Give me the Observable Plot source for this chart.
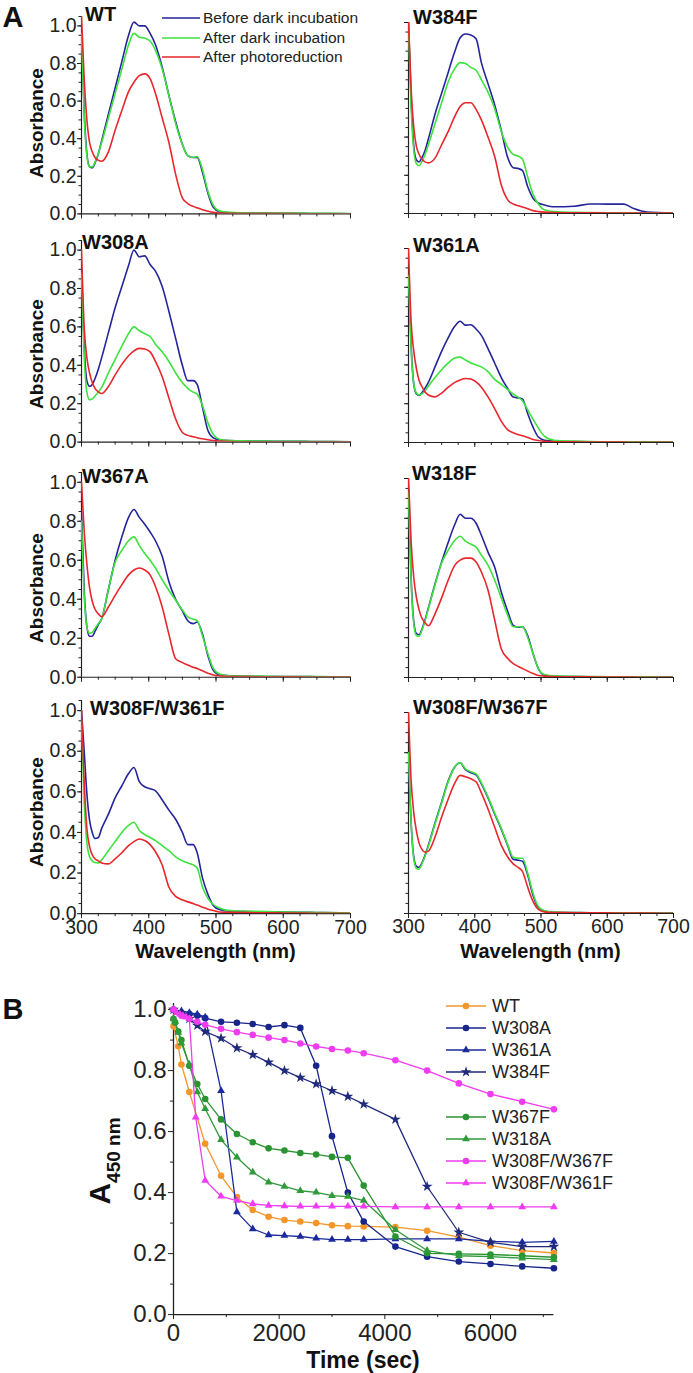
<!DOCTYPE html>
<html><head><meta charset="utf-8">
<script src="https://cdn.jsdelivr.net/npm/d3@7"></script>
<script src="https://cdn.jsdelivr.net/npm/@observablehq/plot@0.6"></script>
<style>
body{margin:0;background:#fff;}
#fig{position:relative;width:693px;height:1373px;overflow:hidden;font-family:'Liberation Sans',Arial,Helvetica,sans-serif;color:#111;background:#fff;}
#fig svg{position:absolute;}
.lbl{position:absolute;white-space:nowrap;line-height:1;}
</style></head><body><div id="fig"></div>
<script>
// ---------------- DATA: panel A (absorption spectra) ----------------
const wl = [300,304,308,312,316,320,325,330,340,350,360,370,378,386,394,402,410,420,430,440,450,458,466,472,480,488,496,505,520,550,575,600,625,640,660,700];
const absTicks = [0, 0.2, 0.4, 0.6, 0.8, 1.0];
const wlTicks = [300, 400, 500, 600, 700];
const spectraLegend = ["Before dark incubation", "After dark incubation", "After photoreduction"];
const panelNames = ["WT", "W384F", "W308A", "W361A", "W367A", "W318F", "W308F/W361F", "W308F/W367F"];

const WT_before = [0.96,0.55,0.32,0.25,0.245,0.27,0.32,0.39,0.53,0.67, 0.81,0.95,1.02,1.00,1.00,0.96,0.90,0.78,0.63,0.49, 0.37,0.31,0.30,0.30,0.22,0.11,0.035,0.012,0.006,0.004, 0.004,0.003,0.003,0.002,0.002,0.001];
const WT_after = [0.96,0.52,0.31,0.25,0.25,0.275,0.32,0.38,0.51,0.64, 0.77,0.90,0.96,0.94,0.935,0.92,0.87,0.77,0.63,0.48, 0.37,0.31,0.30,0.305,0.235,0.12,0.045,0.016,0.008,0.005, 0.005,0.004,0.004,0.003,0.003,0.002];
const WT_photo = [1.05,0.72,0.50,0.38,0.33,0.30,0.285,0.28,0.33,0.445, 0.55,0.65,0.70,0.735,0.745,0.72,0.64,0.51,0.38,0.21, 0.085,0.055,0.04,0.032,0.022,0.014,0.008,0.004,0.003,0.002, 0.002,0.002,0.001,0.001,0.001,0.001];

const W384F_before = [1.0,0.6,0.35,0.28,0.27,0.29,0.33,0.39,0.52,0.63, 0.74,0.85,0.92,0.94,0.935,0.915,0.79,0.68,0.57,0.435, 0.29,0.24,0.235,0.225,0.14,0.08,0.055,0.045,0.035,0.038, 0.05,0.049,0.049,0.026,0.008,0.003];
const W384F_after = [0.98,0.55,0.33,0.26,0.25,0.27,0.31,0.36,0.47,0.58, 0.69,0.76,0.79,0.785,0.765,0.75,0.70,0.635,0.55,0.43, 0.345,0.31,0.30,0.285,0.19,0.10,0.05,0.02,0.01,0.006, 0.005,0.004,0.003,0.003,0.002,0.002];
const W384F_photo = [1.0,0.65,0.45,0.35,0.31,0.285,0.27,0.265,0.29,0.36, 0.43,0.51,0.56,0.58,0.58,0.545,0.49,0.40,0.30,0.15, 0.07,0.05,0.04,0.034,0.025,0.015,0.01,0.007,0.005,0.004, 0.004,0.003,0.003,0.003,0.002,0.002];

const W308A_before = [0.9,0.5,0.32,0.29,0.30,0.33,0.38,0.44,0.57,0.70, 0.81,0.92,1.0,0.965,0.97,0.925,0.89,0.81,0.68,0.54, 0.40,0.32,0.32,0.30,0.18,0.06,0.022,0.012,0.008,0.006, 0.005,0.004,0.004,0.003,0.003,0.002];
const W308A_after = [0.88,0.45,0.26,0.22,0.225,0.24,0.26,0.285,0.36,0.43, 0.50,0.565,0.60,0.58,0.565,0.55,0.51,0.47,0.42,0.36, 0.31,0.28,0.26,0.25,0.19,0.10,0.04,0.015,0.008,0.006, 0.005,0.004,0.004,0.003,0.003,0.002];
const W308A_photo = [1.0,0.6,0.44,0.36,0.31,0.28,0.262,0.253,0.29,0.35, 0.405,0.45,0.475,0.488,0.485,0.47,0.42,0.34,0.23,0.12, 0.05,0.035,0.028,0.023,0.017,0.012,0.008,0.005,0.003,0.002, 0.002,0.002,0.001,0.001,0.001,0.001];

const W361A_before = [0.87,0.5,0.3,0.25,0.243,0.255,0.28,0.31,0.39,0.47, 0.54,0.60,0.625,0.605,0.607,0.585,0.552,0.484,0.41,0.335, 0.277,0.234,0.23,0.225,0.148,0.079,0.028,0.012,0.007,0.005, 0.004,0.004,0.003,0.003,0.002,0.002];
const W361A_after = [0.86,0.48,0.3,0.255,0.245,0.25,0.265,0.29,0.335,0.375, 0.41,0.435,0.44,0.425,0.41,0.40,0.39,0.365,0.325,0.30, 0.272,0.25,0.232,0.215,0.168,0.12,0.075,0.033,0.012,0.007, 0.005,0.004,0.004,0.003,0.003,0.002];
const W361A_photo = [1.0,0.62,0.47,0.38,0.32,0.29,0.26,0.245,0.235,0.255, 0.285,0.31,0.322,0.33,0.327,0.312,0.285,0.235,0.175,0.11, 0.065,0.05,0.04,0.035,0.026,0.016,0.01,0.006,0.004,0.003, 0.002,0.002,0.002,0.001,0.001,0.001];

const W367A_before = [0.85,0.45,0.26,0.21,0.21,0.235,0.27,0.30,0.45,0.60, 0.72,0.82,0.86,0.82,0.785,0.745,0.70,0.62,0.49,0.40, 0.34,0.29,0.275,0.283,0.22,0.11,0.035,0.012,0.007,0.005, 0.004,0.004,0.003,0.003,0.002,0.002];
const W367A_after = [0.8,0.42,0.26,0.225,0.23,0.25,0.275,0.30,0.45,0.59, 0.65,0.70,0.72,0.675,0.635,0.60,0.56,0.50,0.445,0.395, 0.345,0.31,0.298,0.29,0.21,0.12,0.045,0.017,0.008,0.006, 0.005,0.004,0.004,0.003,0.003,0.002];
const W367A_photo = [1.0,0.75,0.58,0.46,0.39,0.35,0.325,0.31,0.36,0.42, 0.475,0.525,0.55,0.56,0.55,0.525,0.465,0.36,0.22,0.095, 0.075,0.063,0.051,0.045,0.033,0.02,0.012,0.007,0.004,0.003, 0.002,0.002,0.002,0.001,0.001,0.001];

const W318F_before = [0.95,0.5,0.28,0.22,0.215,0.24,0.29,0.35,0.47,0.58, 0.68,0.77,0.82,0.80,0.80,0.775,0.715,0.63,0.555,0.43, 0.33,0.262,0.253,0.255,0.21,0.12,0.045,0.012,0.006,0.005, 0.004,0.004,0.003,0.003,0.002,0.002];
const W318F_after = [0.93,0.48,0.27,0.21,0.207,0.235,0.285,0.345,0.465,0.575, 0.64,0.69,0.71,0.685,0.67,0.655,0.615,0.565,0.49,0.40, 0.31,0.255,0.255,0.255,0.20,0.12,0.045,0.015,0.008,0.006, 0.005,0.004,0.004,0.003,0.003,0.002];
const W318F_photo = [1.0,0.68,0.5,0.40,0.34,0.30,0.275,0.26,0.32,0.40, 0.49,0.565,0.59,0.60,0.60,0.58,0.53,0.44,0.29,0.145, 0.095,0.07,0.055,0.045,0.032,0.02,0.01,0.007,0.005,0.003, 0.003,0.002,0.002,0.002,0.001,0.001];

const W308F_W361F_before = [1.0,0.8,0.59,0.46,0.40,0.37,0.375,0.42,0.49,0.57, 0.63,0.69,0.72,0.65,0.625,0.615,0.605,0.56,0.51,0.465, 0.40,0.34,0.34,0.30,0.175,0.095,0.04,0.02,0.012,0.01, 0.009,0.008,0.007,0.006,0.005,0.004];
const W308F_W361F_after = [0.95,0.55,0.35,0.28,0.26,0.252,0.25,0.265,0.31,0.355, 0.40,0.435,0.45,0.41,0.39,0.375,0.36,0.335,0.31,0.28, 0.26,0.25,0.24,0.225,0.13,0.075,0.045,0.028,0.015,0.012, 0.01,0.008,0.007,0.006,0.005,0.004];
const W308F_W361F_photo = [1.0,0.65,0.42,0.33,0.29,0.27,0.26,0.25,0.245,0.27, 0.30,0.335,0.355,0.368,0.36,0.34,0.305,0.24,0.13,0.085, 0.068,0.058,0.05,0.042,0.032,0.022,0.015,0.008,0.006,0.005, 0.004,0.003,0.003,0.002,0.002,0.002];

const W308F_W367F_before = [0.78,0.45,0.28,0.235,0.23,0.25,0.29,0.34,0.45,0.555, 0.66,0.73,0.75,0.715,0.70,0.69,0.645,0.575,0.495,0.42, 0.335,0.27,0.265,0.26,0.19,0.09,0.03,0.012,0.006,0.005, 0.004,0.004,0.003,0.003,0.002,0.002];
const W308F_W367F_after = [0.8,0.45,0.27,0.225,0.22,0.245,0.285,0.335,0.445,0.55, 0.655,0.73,0.75,0.72,0.705,0.695,0.65,0.58,0.50,0.425, 0.34,0.28,0.275,0.275,0.20,0.10,0.035,0.014,0.007,0.005, 0.004,0.004,0.003,0.003,0.002,0.002];
const W308F_W367F_photo = [1.0,0.66,0.50,0.41,0.35,0.32,0.305,0.31,0.38,0.48, 0.57,0.65,0.687,0.68,0.67,0.655,0.60,0.52,0.43,0.34, 0.28,0.247,0.228,0.21,0.13,0.06,0.02,0.008,0.005,0.004, 0.003,0.003,0.002,0.002,0.002,0.001];

// ---------------- DATA: panel B (A450 kinetics) ----------------
const timeTicks = [0, 2000, 4000, 6000];
const kinLegend = ["WT", "W308A", "W361A", "W384F", "W367F", "W318A", "W308F/W367F", "W308F/W361F"];
const tWT = [0,90,150,300,600,900,1200,1500,1800,2100,2400,2700,3000,3300,3600,4200,4800,5400,6000,6600,7200];
const aWT = [0.945,0.88,0.82,0.73,0.56,0.455,0.385,0.343,0.321,0.31,0.305,0.30,0.293,0.29,0.289,0.287,0.275,0.254,0.226,0.21,0.202];
const tW308A = [0,150,300,450,600,900,1200,1500,1800,2100,2400,2700,3000,3300,3600,4200,4800,5400,6000,6600,7200];
const aW308A = [1.0,0.99,0.985,0.98,0.972,0.96,0.957,0.953,0.943,0.949,0.94,0.816,0.585,0.40,0.305,0.223,0.19,0.174,0.166,0.158,0.152];
const tW361A = [0,150,300,450,600,900,1200,1500,1800,2100,2400,2700,3000,3300,3600,4200,4800,5400,6000,6600,7200];
const aW361A = [1.0,0.995,0.99,0.985,0.975,0.734,0.336,0.281,0.261,0.259,0.256,0.25,0.246,0.246,0.246,0.248,0.248,0.248,0.24,0.237,0.24];
const tW384F = [0,150,300,450,600,900,1200,1500,1800,2100,2400,2700,3000,3300,3600,4200,4800,5400,6000,6600,7200];
const aW384F = [1.0,0.99,0.97,0.948,0.928,0.906,0.874,0.852,0.827,0.80,0.777,0.756,0.734,0.715,0.69,0.64,0.42,0.27,0.237,0.223,0.223];
const tW367F = [0,30,90,150,300,450,600,900,1200,1500,1800,2100,2400,2700,3000,3300,3600,4200,4800,5400,6000,6600,7200];
const aW367F = [0.97,0.958,0.928,0.90,0.816,0.756,0.707,0.64,0.592,0.565,0.545,0.538,0.53,0.525,0.517,0.514,0.423,0.256,0.201,0.199,0.197,0.193,0.188];
const tW318A = [0,30,90,150,300,450,600,900,1200,1500,1800,2100,2400,2700,3000,3300,3600,4200,4800,5400,6000,6600,7200];
const aW318A = [0.97,0.96,0.925,0.89,0.82,0.73,0.675,0.573,0.516,0.467,0.434,0.42,0.406,0.401,0.39,0.387,0.374,0.278,0.21,0.193,0.19,0.185,0.18];
const tW308F_W367F = [0,150,300,450,600,900,1200,1500,1800,2100,2400,2700,3000,3300,3600,4200,4800,5400,6000,6600,7200];
const aW308F_W367F = [1.0,0.98,0.97,0.96,0.95,0.937,0.926,0.917,0.908,0.90,0.889,0.879,0.871,0.866,0.857,0.834,0.80,0.758,0.723,0.698,0.673];
const tW308F_W361F = [0,60,120,180,240,300,420,600,900,1200,1500,1800,2100,2400,2700,3000,3300,3600,4200,4800,5400,6000,6600,7200];
const aW308F_W361F = [1.0,0.99,0.985,0.98,0.975,0.97,0.647,0.44,0.388,0.374,0.363,0.358,0.356,0.355,0.355,0.355,0.355,0.355,0.353,0.353,0.353,0.353,0.353,0.353];

// ---------------- STYLE / LAYOUT ----------------
const FONT = "'Liberation Sans', Arial, Helvetica, sans-serif";
const AXIS = "#222";
const specColors = ["#25259b", "#3ee23e", "#e8262b"];
const ORANGE = "#f5962a", NAVY = "#17258a", GREEN = "#2b9432", MAGENTA = "#f03cf0";
const fig = document.getElementById("fig");

const spectra = [
  [WT_before, WT_after, WT_photo],
  [W384F_before, W384F_after, W384F_photo],
  [W308A_before, W308A_after, W308A_photo],
  [W361A_before, W361A_after, W361A_photo],
  [W367A_before, W367A_after, W367A_photo],
  [W318F_before, W318F_after, W318F_photo],
  [W308F_W361F_before, W308F_W361F_after, W308F_W361F_photo],
  [W308F_W367F_before, W308F_W367F_after, W308F_W367F_photo]
];
const cols = [
  {left: 0, width: 360, mL: 81, mR: 10, yMax: 1.05, labels: true},
  {left: 340, width: 353, mL: 68, mR: 20, yMax: 1.0, labels: false}
];
const rows = [
  {zero: 213, one: [25, 22], last: false, absY: 123},
  {zero: 442, one: [250, 248], last: false, absY: 354},
  {zero: 677, one: [482, 478], last: false, absY: 588},
  {zero: 913, one: [710, 712], last: true, absY: 812}
];
const namePos = [[85, 14], [413, 17], [82, 242], [413, 245], [82, 476], [412, 473], [90, 708], [413, 707]];

function label(text, x, y, css, align) {
  const d = document.createElement("div");
  d.className = "lbl";
  d.textContent = text;
  d.style.left = x + "px"; d.style.top = y + "px";
  d.style.transform = align === "start" ? "translate(0,-50%)" : "translate(-50%,-50%)";
  Object.assign(d.style, css || {});
  fig.appendChild(d);
  return d;
}

const blank = () => "";

spectra.forEach((curves, i) => {
  const col = cols[i % 2], row = rows[Math.floor(i / 2)];
  const one = row.one[i % 2];
  const span = row.zero - one;
  const top = row.zero - col.yMax * span;
  const mT = 10, mB = row.last ? 30 : 14;
  const table = arr => wl.map((w, k) => ({wl: w, a: arr[k]}));
  const svg = Plot.plot({
    width: col.width, height: mT + (row.zero - top) + mB,
    marginLeft: col.mL, marginRight: col.mR, marginTop: mT, marginBottom: mB,
    x: {domain: [300, 700], label: null},
    y: {domain: [0, col.yMax], label: null},
    style: {background: "transparent", overflow: "visible", fontFamily: FONT, fontSize: "19.5px", color: AXIS},
    marks: [
      Plot.axisY({ticks: d3.range(0, col.yMax + 0.001, 0.05), tickSize: 2.5, tickFormat: blank, label: null}),
      Plot.axisY({ticks: absTicks, tickSize: 4, tickPadding: 1, tickFormat: col.labels ? d3.format(".1f") : blank, label: null}),
      Plot.axisX({ticks: d3.range(300, 701, 25), tickSize: 3, tickFormat: blank, label: null}),
      Plot.axisX({ticks: wlTicks, tickSize: 5, tickPadding: 1, tickFormat: row.last ? (d => String(d)) : blank, label: null}),
      Plot.ruleX([300], {stroke: AXIS, strokeWidth: 1.2}),
      Plot.ruleY([0], {stroke: AXIS, strokeWidth: 1.2}),
      ...curves.map((arr, c) => Plot.line(table(arr), {x: "wl", y: "a", stroke: specColors[c], strokeWidth: 1.6, curve: "monotone-x", clip: true}))
    ]
  });
  svg.style.left = col.left + "px";
  svg.style.top = (top - mT) + "px";
  fig.appendChild(svg);

  label(panelNames[i], namePos[i][0], namePos[i][1], {fontSize: "20px", fontWeight: "bold"}, "start");
  if (col.labels) {
    const d = label("Absorbance", 36, row.absY, {fontSize: "19px", fontWeight: "bold"});
    d.style.transform = "translate(-50%,-50%) rotate(-90deg)";
  }
  if (row.last) {
    const cx = col.left + col.mL + (col.width - col.mL - col.mR) / 2;
    label("Wavelength (nm)", cx, 951, {fontSize: "20px", fontWeight: "bold"});
  }
});

// legend for panel A
const NS = "http://www.w3.org/2000/svg";
spectraLegend.forEach((name, k) => {
  const y = 18 + k * 19.5;
  const s = document.createElementNS(NS, "svg");
  s.setAttribute("width", 40); s.setAttribute("height", 6);
  s.style.left = "162px"; s.style.top = (y - 3) + "px";
  const l = document.createElementNS(NS, "line");
  l.setAttribute("x1", 0); l.setAttribute("x2", 38); l.setAttribute("y1", 3); l.setAttribute("y2", 3);
  l.setAttribute("stroke", specColors[k]); l.setAttribute("stroke-width", 1.6);
  s.appendChild(l); fig.appendChild(s);
  label(name, 203, y, {fontSize: "15.5px", color: "#222"}, "start");
});

// ---------------- Panel B ----------------
const series = [
  {t: tWT, a: aWT, color: ORANGE, symbol: "circle"},
  {t: tW308A, a: aW308A, color: NAVY, symbol: "circle"},
  {t: tW361A, a: aW361A, color: "#1a2a9c", symbol: "triangle"},
  {t: tW384F, a: aW384F, color: "#1f2a7a", symbol: "star"},
  {t: tW367F, a: aW367F, color: GREEN, symbol: "circle"},
  {t: tW318A, a: aW318A, color: "#2f9a3a", symbol: "triangle"},
  {t: tW308F_W367F, a: aW308F_W367F, color: MAGENTA, symbol: "circle"},
  {t: tW308F_W361F, a: aW308F_W361F, color: MAGENTA, symbol: "triangle"}
];
const symR = {circle: 3.3, triangle: 2.9, star: 3.4};
const bZero = 1314, bPer = 305, bMax = 1.02;
const bTop = bZero - bMax * bPer, bMT = 13, bMB = 40;
const bSvg = Plot.plot({
  width: 693, height: bMT + (bZero - bTop) + bMB,
  marginLeft: 173, marginRight: 693 - (173 + 7200 * 317 / 6000), marginTop: bMT, marginBottom: bMB,
  x: {domain: [0, 7200], label: null},
  y: {domain: [0, bMax], label: null},
  style: {background: "transparent", overflow: "visible", fontFamily: FONT, fontSize: "24px", color: AXIS},
  marks: [
    Plot.axisY({ticks: d3.range(0.1, 1.0, 0.2), tickSize: 3, tickFormat: blank, label: null}),
    Plot.axisY({ticks: absTicks, tickSize: 5, tickPadding: 2, tickFormat: d3.format(".1f"), label: null}),
    Plot.axisX({ticks: [1000, 3000, 5000, 7000], tickSize: 3, tickFormat: blank, label: null}),
    Plot.axisX({ticks: timeTicks, tickSize: 5, tickPadding: 4, tickFormat: d => String(d), label: null}),
    Plot.ruleX([0], {stroke: AXIS, strokeWidth: 1.3}),
    Plot.ruleY([0], {stroke: AXIS, strokeWidth: 1.3}),
    ...series.flatMap(s => {
      const data = s.t.map((t, k) => ({t, a: s.a[k]}));
      return [
        Plot.line(data, {x: "t", y: "a", stroke: s.color, strokeWidth: 1.3}),
        Plot.dot(data, {x: "t", y: "a", symbol: s.symbol, fill: s.color, stroke: "none", r: symR[s.symbol]})
      ];
    })
  ]
});
bSvg.style.left = "0px";
bSvg.style.top = (bTop - bMT) + "px";
fig.appendChild(bSvg);

// legend for panel B
const legY = [1006, 1028, 1050, 1072, 1117, 1139, 1161, 1183];
const symFn = {circle: d3.symbolCircle, triangle: d3.symbolTriangle, star: d3.symbolStar};
kinLegend.forEach((name, k) => {
  const s = series[k];
  const svg = document.createElementNS(NS, "svg");
  svg.setAttribute("width", 42); svg.setAttribute("height", 14);
  svg.style.left = "446px"; svg.style.top = (legY[k] - 7) + "px";
  const l = document.createElementNS(NS, "line");
  l.setAttribute("x1", 0); l.setAttribute("x2", 40); l.setAttribute("y1", 7); l.setAttribute("y2", 7);
  l.setAttribute("stroke", s.color); l.setAttribute("stroke-width", 1.3);
  svg.appendChild(l);
  const p = document.createElementNS(NS, "path");
  const r = symR[s.symbol];
  p.setAttribute("d", d3.symbol(symFn[s.symbol], Math.PI * r * r)());
  p.setAttribute("transform", "translate(20,7)");
  p.setAttribute("fill", s.color);
  svg.appendChild(p);
  fig.appendChild(svg);
  label(name, 492, legY[k], {fontSize: "18px", color: "#222"}, "start");
});

// axis titles and panel letters
label("Time (sec)", 363, 1360, {fontSize: "23px", fontWeight: "bold"});
const yl = document.createElement("div");
yl.className = "lbl";
yl.style.left = "100px"; yl.style.top = "1161px"; yl.style.fontWeight = "bold";
yl.style.transform = "translate(-50%,-50%) rotate(-90deg)";
yl.innerHTML = '<span style="font-size:30px">A</span><span style="font-size:19px;position:relative;top:10px">450 nm</span>';
fig.appendChild(yl);
label("A", 13, 17, {fontSize: "29px", fontWeight: "bold"});
label("B", 13, 1009, {fontSize: "29px", fontWeight: "bold"});
</script></body></html>
